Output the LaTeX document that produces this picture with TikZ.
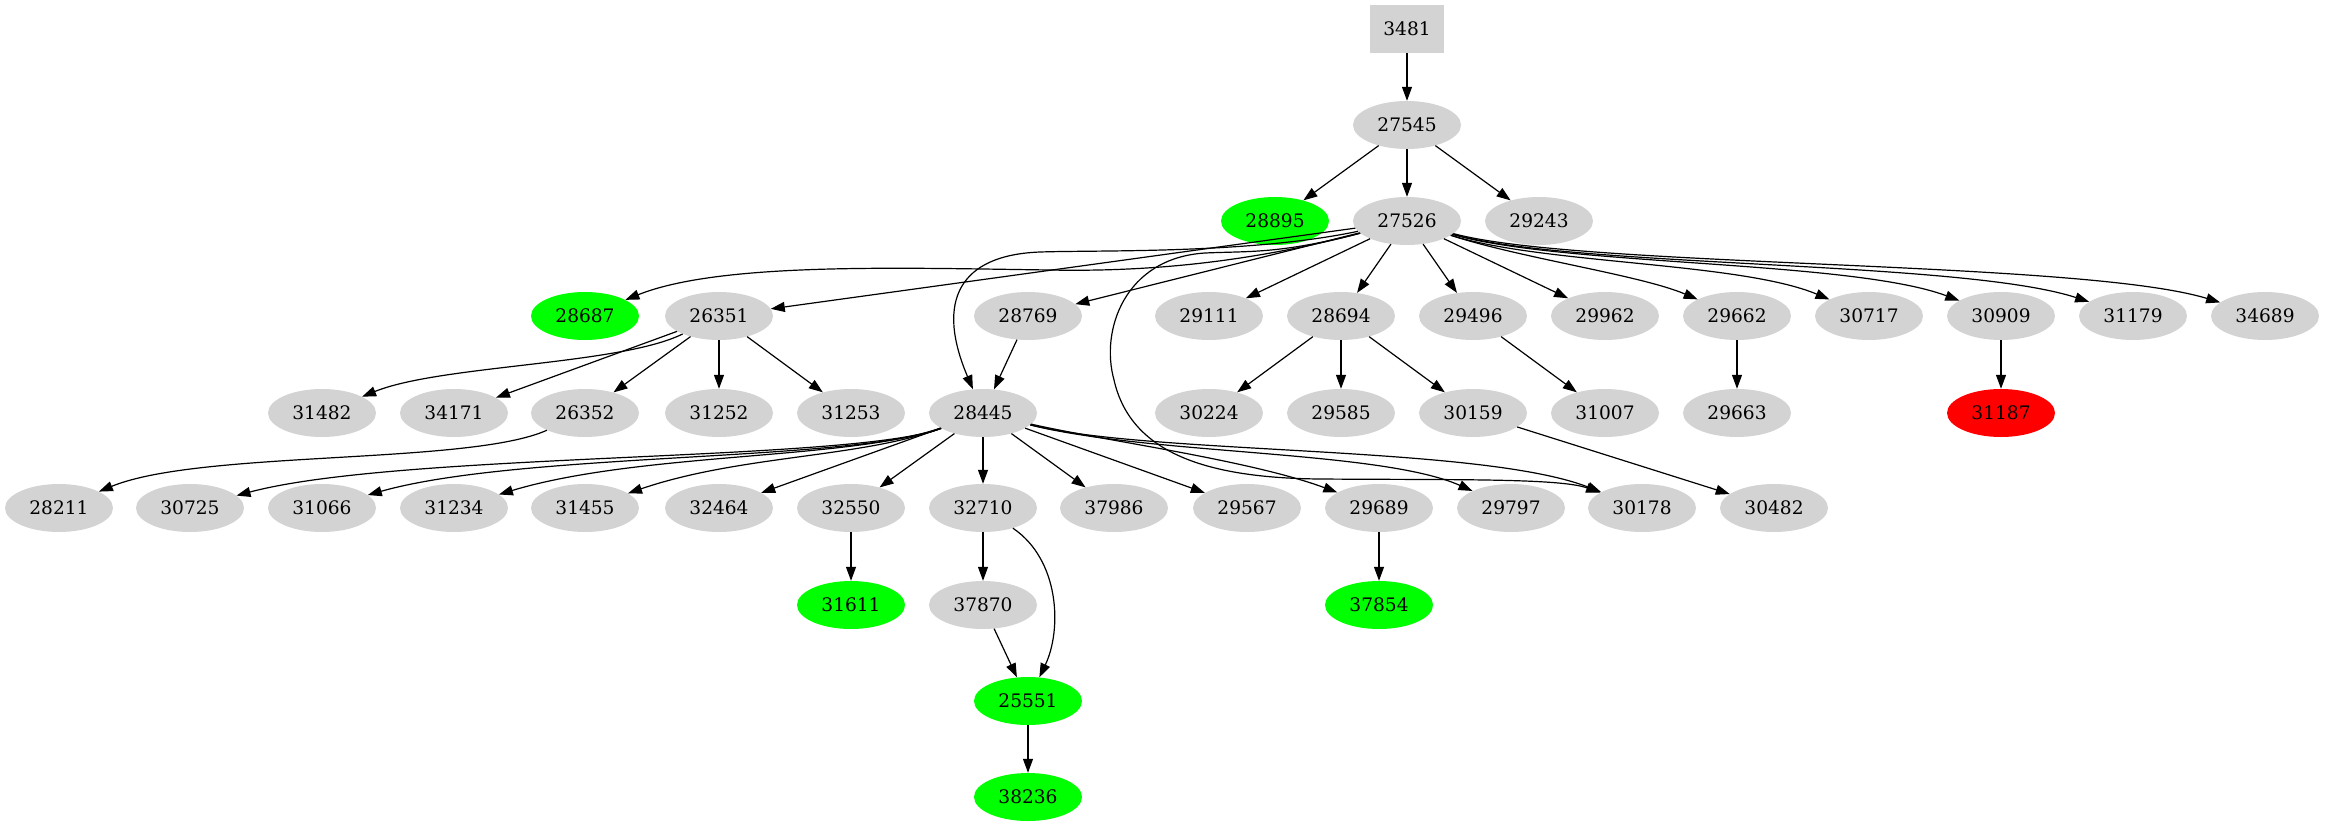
\documentclass[tikz,border=0pt]{standalone}
\usepackage{fontspec}
\setmainfont{DejaVu Serif}
\definecolor{vgray}{RGB}{211,211,211}
\definecolor{vgreen}{RGB}{0,255,0}
\definecolor{vred}{RGB}{255,0,0}
\usetikzlibrary{arrows.meta,shapes.geometric}
\newcommand{\vfont}{\fontsize{18.6}{22}\selectfont}
\tikzset{
  vtx/.style={ellipse, fill=vgray, minimum width=108pt, minimum height=48pt,
              inner sep=0pt, font=\vfont},
  hit/.style={vtx, fill=vgreen},
  miss/.style={vtx, fill=vred},
  root/.style={rectangle, fill=vgray, minimum width=74pt, minimum height=48pt,
              inner sep=0pt, font=\vfont},
  link/.style={-{Triangle[length=14pt,width=10pt]}, line width=1.2pt, black},
}
\begin{document}
\begin{tikzpicture}[x=1pt,y=-1pt]
    \useasboundingbox (0,0) rectangle (2325,827);
    % --- top ---
    \node[root] (n3481) at (1407,29) {3481};
    \node[vtx] (n27545) at (1407,125) {27545};
    \node[hit] (n28895) at (1275,221) {28895};
    \node[vtx] (n27526) at (1407,221) {27526};
    \node[vtx] (n29243) at (1539,221) {29243};
    % --- second rank ---
    \node[hit] (n28687) at (585,316) {28687};
    \node[vtx] (n26351) at (719,316) {26351};
    \node[vtx] (n28769) at (1028,316) {28769};
    \node[vtx] (n29111) at (1209,316) {29111};
    \node[vtx] (n28694) at (1341,316) {28694};
    \node[vtx] (n29496) at (1473,316) {29496};
    \node[vtx] (n29962) at (1605,316) {29962};
    \node[vtx] (n29662) at (1737,316) {29662};
    \node[vtx] (n30717) at (1869,316) {30717};
    \node[vtx] (n30909) at (2001,316) {30909};
    \node[vtx] (n31179) at (2133,316) {31179};
    \node[vtx] (n34689) at (2265,316) {34689};
    % --- third rank ---
    \node[vtx] (n31482) at (322,413) {31482};
    \node[vtx] (n34171) at (454,413) {34171};
    \node[vtx] (n26352) at (585,413) {26352};
    \node[vtx] (n31252) at (719,413) {31252};
    \node[vtx] (n31253) at (851,413) {31253};
    \node[vtx] (n28445) at (983,413) {28445};
    \node[vtx] (n30224) at (1209,413) {30224};
    \node[vtx] (n29585) at (1341,413) {29585};
    \node[vtx] (n30159) at (1473,413) {30159};
    \node[vtx] (n31007) at (1605,413) {31007};
    \node[vtx] (n29663) at (1737,413) {29663};
    \node[miss] (n31187) at (2001,413) {31187};
    % --- fourth rank ---
    \node[vtx] (n28211) at (59,508) {28211};
    \node[vtx] (n30725) at (190,508) {30725};
    \node[vtx] (n31066) at (322,508) {31066};
    \node[vtx] (n31234) at (454,508) {31234};
    \node[vtx] (n31455) at (585,508) {31455};
    \node[vtx] (n32464) at (719,508) {32464};
    \node[vtx] (n32550) at (851,508) {32550};
    \node[vtx] (n32710) at (983,508) {32710};
    \node[vtx] (n37986) at (1114,508) {37986};
    \node[vtx] (n29567) at (1247,508) {29567};
    \node[vtx] (n29689) at (1379,508) {29689};
    \node[vtx] (n29797) at (1511,508) {29797};
    \node[vtx] (n30178) at (1642,508) {30178};
    \node[vtx] (n30482) at (1774,508) {30482};
    % --- bottom ---
    \node[hit] (n31611) at (851,605) {31611};
    \node[vtx] (n37870) at (983,605) {37870};
    \node[hit] (n37854) at (1379,605) {37854};
    \node[hit] (n25551) at (1028,701) {25551};
    \node[hit] (n38236) at (1028,797) {38236};
    % --- edges from the top ---
    \draw[link] (n3481) -- (n27545);
    \draw[link] (n27545) -- (n28895);
    \draw[link] (n27545) -- (n27526);
    \draw[link] (n27545) -- (n29243);
    % --- edges out of 27526 ---
    \draw[link] (n27526) .. controls (1250,262) and (1150,272) .. (1050,270)
      .. controls (900,268) and (720,262) .. (n28687);
    \draw[link] (n27526) -- (n26351);
    \draw[link] (n27526) .. controls (1250,254) and (1100,250) .. (1040,252)
      .. controls (960,255) and (935,300) .. (n28445);
    \draw[link] (n27526) -- (n28769);
    \draw[link] (n27526) .. controls (1280,254) and (1250,251) .. (1205,253)
      .. controls (1125,258) and (1100,330) .. (1114,380)
      .. controls (1130,450) and (1200,478) .. (1320,479)
      .. controls (1450,480) and (1560,478) .. (n30178);
    \draw[link] (n27526) -- (n29111);
    \draw[link] (n27526) -- (n28694);
    \draw[link] (n27526) -- (n29496);
    \draw[link] (n27526) -- (n29962);
    \draw[link] (n27526) .. controls (1520,258) and (1640,275) .. (n29662);
    \draw[link] (n27526) .. controls (1540,264) and (1740,262) .. (n30717);
    \draw[link] (n27526) .. controls (1560,266) and (1850,260) .. (n30909);
    \draw[link] (n27526) .. controls (1570,268) and (1960,260) .. (n31179);
    \draw[link] (n27526) .. controls (1580,268) and (2080,260) .. (n34689);
    % --- second rank edges ---
    \draw[link] (n26351) .. controls (620,365) and (440,365) .. (n31482);
    \draw[link] (n26351) -- (n34171);
    \draw[link] (n26351) -- (n26352);
    \draw[link] (n26351) -- (n31252);
    \draw[link] (n26351) -- (n31253);
    \draw[link] (n28769) -- (n28445);
    \draw[link] (n28694) -- (n30224);
    \draw[link] (n28694) -- (n29585);
    \draw[link] (n28694) -- (n30159);
    \draw[link] (n29496) -- (n31007);
    \draw[link] (n29662) -- (n29663);
    \draw[link] (n30909) -- (n31187);
    % --- third rank edges ---
    \draw[link] (n26352) .. controls (470,465) and (200,450) .. (n28211);
    \draw[link] (n28445) .. controls (850,462) and (400,452) .. (n30725);
    \draw[link] (n28445) .. controls (850,462) and (520,452) .. (n31066);
    \draw[link] (n28445) .. controls (850,460) and (640,452) .. (n31234);
    \draw[link] (n28445) .. controls (860,458) and (740,455) .. (n31455);
    \draw[link] (n28445) -- (n32464);
    \draw[link] (n28445) -- (n32550);
    \draw[link] (n28445) -- (n32710);
    \draw[link] (n28445) -- (n37986);
    \draw[link] (n28445) -- (n29567);
    \draw[link] (n28445) .. controls (1100,440) and (1250,460) .. (n29689);
    \draw[link] (n28445) .. controls (1150,455) and (1380,450) .. (n29797);
    \draw[link] (n28445) .. controls (1150,455) and (1480,445) .. (n30178);
    \draw[link] (n30159) -- (n30482);
    % --- lower edges ---
    \draw[link] (n32550) -- (n31611);
    \draw[link] (n32710) -- (n37870);
    \draw[link] (n32710) .. controls (1060,560) and (1062,630) .. (n25551);
    \draw[link] (n37870) -- (n25551);
    \draw[link] (n29689) -- (n37854);
    \draw[link] (n25551) -- (n38236);
\end{tikzpicture}
\end{document}
